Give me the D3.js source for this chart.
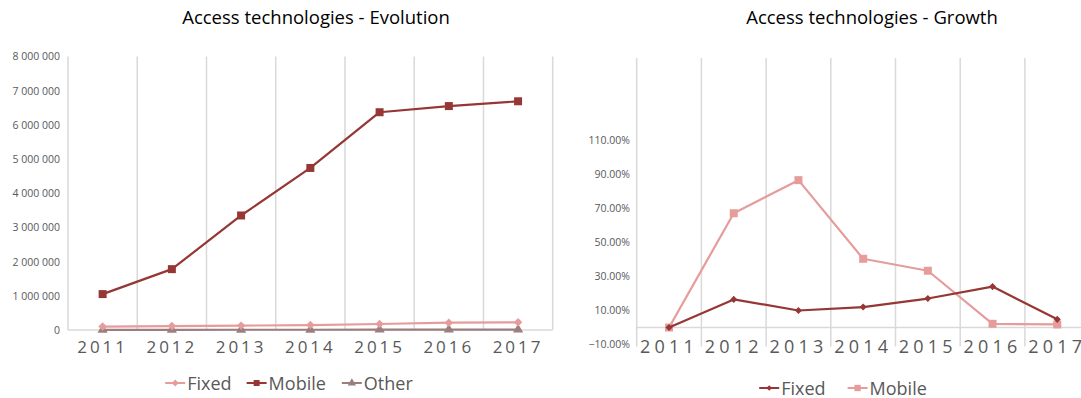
<!DOCTYPE html>
<html>
<head>
<meta charset="utf-8">
<script src="https://cdn.jsdelivr.net/npm/d3@7"></script>
<style>
  html, body { margin: 0; padding: 0; background: #fff; }
  svg { display: block; }
  text { font-family: "Open Sans", "Noto Sans", sans-serif; }
</style>
</head>
<body>
<svg id="chart" width="1081" height="398"></svg>
<script>
// Subscriber counts per access technology
const years = ["2011", "2012", "2013", "2014", "2015", "2016", "2017"];
const fixedSubs  = [100000, 116000, 128000, 145000, 175000, 215000, 225000];
const mobileSubs = [1050000, 1780000, 3350000, 4740000, 6370000, 6550000, 6690000];
const otherSubs  = [5000, 6000, 7000, 8000, 10000, 11000, 12000];

// Year-on-year growth (%)
const fixedGrowth  = [0, 16.5, 10.0, 12.0, 17.0, 24.0, 4.8];
const mobileGrowth = [0, 67.0, 86.4, 40.3, 33.3, 2.2, 1.8];

const subsTicks   = [0, 1e6, 2e6, 3e6, 4e6, 5e6, 6e6, 7e6, 8e6];
const growthTicks = [-10, 10, 30, 50, 70, 90, 110];

const C = {
  dark: "#953735",
  pink: "#E59C9B",
  mauve: "#9C7E7E",
  grid: "#D9D9D9",
  label: "#595959",
  title: "#000000"
};

const svg = d3.select("#chart");
const spaced = d3.formatLocale({ decimal: ".", thousands: " ", grouping: [3], currency: ["", ""] }).format(",d");
const pct = v => d3.format(".2f")(v) + "%";

// marker shapes: a diamond is a square turned by 45 degrees
const MARK = {
  square:   { type: d3.symbolSquare, rotate: 0 },
  diamond:  { type: d3.symbolSquare, rotate: 45 },
  triangle: { type: d3.symbolTriangle, rotate: 0 }
};

function marker(sel, kind, size, cx, cy, color) {
  const m = MARK[kind];
  sel.append("path")
    .attr("d", d3.symbol().type(m.type).size(size)())
    .attr("transform", `translate(${cx},${cy}) rotate(${m.rotate})`)
    .attr("fill", color);
}

function drawSeries(g, x, y, values, color, kind, size, width) {
  const pts = years.map((yr, i) => [x(yr) + x.bandwidth() / 2, y(values[i])]);
  g.append("path")
    .attr("d", d3.line()(pts))
    .attr("fill", "none")
    .attr("stroke", color)
    .attr("stroke-width", width)
    .attr("stroke-linejoin", "round");
  pts.forEach(p => marker(g, kind, size, p[0], p[1], color));
}

function drawLegend(g, cx, cy, items) {
  const lg = g.append("g");
  let xPos = 0;
  items.forEach(it => {
    const item = lg.append("g").attr("transform", `translate(${xPos},0)`);
    item.append("line").attr("x1", 0).attr("x2", 20).attr("y1", 0).attr("y2", 0)
      .attr("stroke", it.color).attr("stroke-width", 2);
    marker(item, it.kind, it.size, 10, 0, it.color);
    const t = item.append("text").attr("x", 22).attr("y", 6.5)
      .attr("font-size", 18).attr("fill", C.label).text(it.name);
    xPos += 22 + t.node().getComputedTextLength() + it.gap;
  });
  const w = xPos - items[items.length - 1].gap;
  lg.attr("transform", `translate(${cx - w / 2},${cy})`);
}

// ---------- Evolution chart ----------
{
  const g = svg.append("g");
  const x = d3.scaleBand().domain(years).range([68, 552.7]).padding(0);
  const y = d3.scaleLinear().domain([0, 8e6]).range([330, 56.5]);

  // vertical gridlines at category boundaries
  const bounds = d3.range(years.length + 1).map(i => x.range()[0] + i * x.bandwidth());
  g.selectAll(null).data(bounds).enter().append("line")
    .attr("x1", d => d).attr("x2", d => d)
    .attr("y1", y(8e6)).attr("y2", y(0))
    .attr("stroke", C.grid).attr("stroke-width", 1.5);
  g.append("line").attr("x1", x.range()[0]).attr("x2", x.range()[1])
    .attr("y1", y(0)).attr("y2", y(0)).attr("stroke", C.grid).attr("stroke-width", 1.5);

  // value axis labels
  const ya = g.append("g").attr("transform", "translate(60,0)")
    .call(d3.axisLeft(y).tickValues(subsTicks).tickFormat(spaced).tickSize(0).tickPadding(0));
  ya.select(".domain").remove();
  ya.selectAll("text").attr("font-size", 10.5).attr("fill", C.label)
    .attr("font-family", "'Open Sans', sans-serif");

  // category labels
  const xa = g.append("g").attr("transform", `translate(0,${y(0)})`)
    .call(d3.axisBottom(x).tickSize(0).tickPadding(0));
  xa.select(".domain").remove();
  xa.selectAll("text").attr("font-size", 17).attr("fill", C.label)
    .attr("letter-spacing", 3).attr("dy", 22.5)
    .attr("font-family", "'Open Sans', sans-serif");

  drawSeries(g, x, y, otherSubs, C.mauve, "triangle", 45, 2.2);
  drawSeries(g, x, y, fixedSubs, C.pink, "diamond", 36, 2.2);
  drawSeries(g, x, y, mobileSubs, C.dark, "square", 64, 2.2);

  g.append("text").attr("x", 316).attr("y", 24).attr("text-anchor", "middle")
    .attr("font-size", 18.5).attr("fill", C.title).text("Access technologies - Evolution");

  drawLegend(g, 289, 383, [
    { name: "Fixed", color: C.pink, kind: "diamond", size: 24, gap: 15 },
    { name: "Mobile", color: C.dark, kind: "square", size: 36, gap: 16 },
    { name: "Other", color: C.mauve, kind: "triangle", size: 30, gap: 0 }
  ]);
}

// ---------- Growth chart ----------
{
  const g = svg.append("g");
  const x = d3.scaleBand().domain(years).range([636.7, 636.7 + 7 * 64.7]).padding(0);
  const y = d3.scaleLinear().domain([-10, 158]).range([344.6, 58]);

  const bounds = d3.range(years.length + 1).map(i => x.range()[0] + i * x.bandwidth());
  g.selectAll(null).data(bounds).enter().append("line")
    .attr("x1", d => d).attr("x2", d => d)
    .attr("y1", y(158)).attr("y2", y(-10) + 2)
    .attr("stroke", C.grid).attr("stroke-width", 1.5);
  g.append("line").attr("x1", x.range()[0]).attr("x2", x.range()[1])
    .attr("y1", y(0)).attr("y2", y(0)).attr("stroke", C.grid).attr("stroke-width", 1.5);

  const ya = g.append("g").attr("transform", "translate(630,0)")
    .call(d3.axisLeft(y).tickValues(growthTicks).tickFormat(pct).tickSize(0).tickPadding(0));
  ya.select(".domain").remove();
  ya.selectAll("text").attr("font-size", 10.5).attr("fill", C.label)
    .attr("font-family", "'Open Sans', sans-serif");

  const xa = g.append("g").attr("transform", `translate(0,${y(-10)})`)
    .call(d3.axisBottom(x).tickSize(0).tickPadding(0));
  xa.select(".domain").remove();
  xa.selectAll("text").attr("font-size", 18).attr("fill", C.label)
    .attr("letter-spacing", 4.2).attr("dy", 8.5)
    .attr("font-family", "'Open Sans', sans-serif");

  drawSeries(g, x, y, mobileGrowth, C.pink, "square", 64, 2.2);
  drawSeries(g, x, y, fixedGrowth, C.dark, "diamond", 25, 2.2);

  g.append("text").attr("x", 872).attr("y", 24).attr("text-anchor", "middle")
    .attr("font-size", 18.5).attr("fill", C.title).text("Access technologies - Growth");

  drawLegend(g, 843, 388, [
    { name: "Fixed", color: C.dark, kind: "diamond", size: 16, gap: 22 },
    { name: "Mobile", color: C.pink, kind: "square", size: 40, gap: 0 }
  ]);
}
</script>
</body>
</html>
